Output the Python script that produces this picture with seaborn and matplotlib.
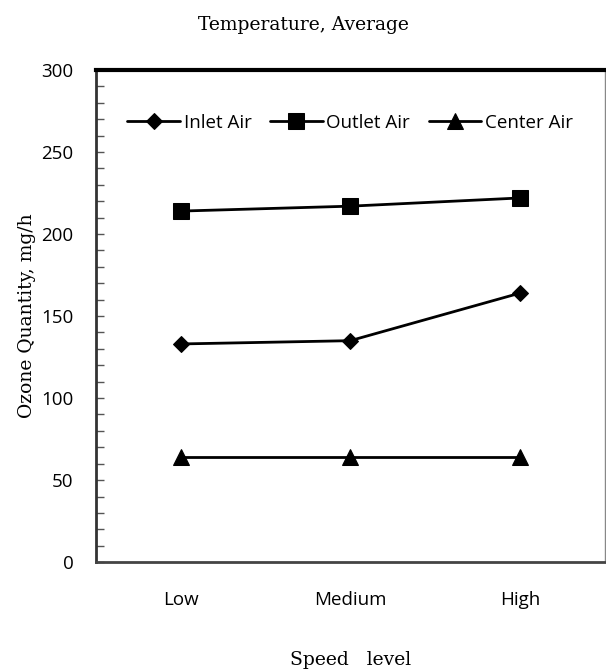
import pandas as pd
import seaborn as sns
from matplotlib import pyplot as plt
from matplotlib.ticker import MultipleLocator

speed = ['Low', 'Medium', 'High']
inlet_air = [133, 135, 164]
outlet_air = [214, 217, 222]
center_air = [64, 64, 64]

df = pd.DataFrame({
    'Speed': speed * 3,
    'Ozone': inlet_air + outlet_air + center_air,
    'Series': ['Inlet Air'] * 3 + ['Outlet Air'] * 3 + ['Center Air'] * 3,
})

sns.set_style('white')
plt.rcParams['font.family'] = ['Open Sans', 'DejaVu Sans']
plt.rcParams['text.color'] = 'black'

fig, ax = plt.subplots(figsize=(6.06, 6.70), dpi=100)
fig.subplots_adjust(left=0.158, right=0.998, bottom=0.161, top=0.8955)

sns.lineplot(
    data=df, x='Speed', y='Ozone', hue='Series', style='Series',
    palette=['black'] * 3, markers={'Inlet Air': 'D', 'Outlet Air': 's', 'Center Air': '^'},
    dashes=False, linewidth=2, markersize=11, markeredgecolor='black', ax=ax,
)
for line in ax.lines:
    if line.get_marker() == 'D':
        line.set_markersize(8.5)

ax.set_xlim(-0.5, 2.5)
ax.set_ylim(0, 300)
ax.yaxis.set_major_locator(MultipleLocator(50))
ax.yaxis.set_minor_locator(MultipleLocator(10))
ax.tick_params(axis='y', which='both', direction='in', length=6, width=1,
               color='#555555', left=True, pad=16, labelsize=13.5, labelcolor='black')
ax.tick_params(axis='x', length=0, pad=21, labelsize=13.5, labelcolor='black')

# excel-style plot area border
ax.spines['top'].set_color('black')
ax.spines['top'].set_linewidth(3)
ax.spines['left'].set_color('#333333')
ax.spines['left'].set_linewidth(2)
ax.spines['bottom'].set_color('#444444')
ax.spines['bottom'].set_linewidth(2)
ax.spines['right'].set_color('#888888')
ax.spines['right'].set_linewidth(1)

ax.set_xlabel('Speed   level', family='DejaVu Serif', fontsize=13.5, labelpad=30, color='black')
ax.set_ylabel('Ozone Quantity, mg/h', family='DejaVu Serif', fontsize=13.5, labelpad=4, color='black')
fig.text(0.5, 0.962, 'Temperature, Average', family='DejaVu Serif', fontsize=13.5,
         ha='center', va='center', color='black')

ax.legend(loc='upper center', bbox_to_anchor=(0.5, 0.945), ncol=3, frameon=False,
          fontsize=13.5, handlelength=2.8, columnspacing=1.0, handletextpad=0.2)

fig.savefig('out.png', dpi=100)
